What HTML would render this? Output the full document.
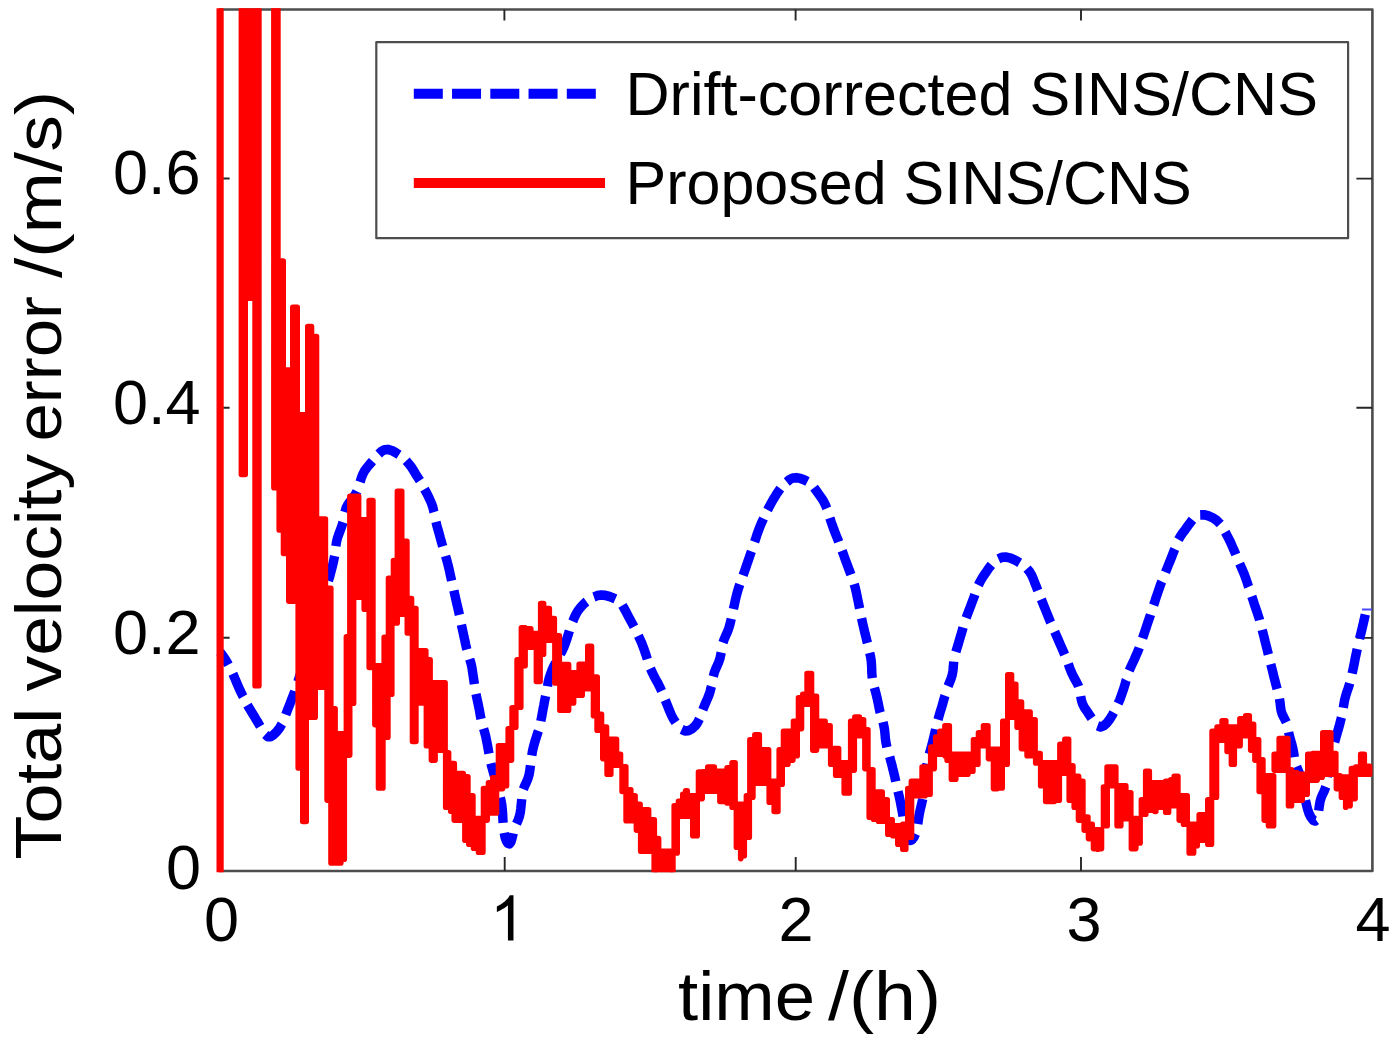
<!DOCTYPE html>
<html><head><meta charset="utf-8"><title>Total velocity error</title>
<style>
html,body{margin:0;padding:0;background:#fff;}
body{width:1400px;height:1042px;overflow:hidden;position:relative;font-family:"Liberation Sans",sans-serif;}
svg{position:absolute;left:0;top:0;display:block;}
text{font-family:"Liberation Sans",sans-serif;fill:#000;}
</style></head><body>
<svg width="1400" height="1042" viewBox="0 0 1400 1042">
<rect x="0" y="0" width="1400" height="1042" fill="#ffffff"/>
<defs><filter id="soft" x="0" y="0" width="1400" height="1042" filterUnits="userSpaceOnUse"><feGaussianBlur stdDeviation="0.5"/></filter></defs>
<g filter="url(#soft)">
<rect x="0" y="0" width="1400" height="1042" fill="#ffffff"/>
<!-- axes box -->
<rect x="220" y="9.5" width="1152.4" height="861.5" fill="none" stroke="#4d4d4d" stroke-width="2.6" stroke-linejoin="round"/>
<!-- ticks -->
<g stroke="#262626" stroke-width="1.9" fill="none">
<path d="M504.7 871V857M795.7 871V857M1081 871V857"/>
<path d="M504.4 9.5V20.4M795.6 9.5V20.4M1081 9.5V20.4"/>
<path d="M220 178.5H229.6M220 407.8H229.6M220 637.8H229.6"/>
<path d="M1372.4 178.6H1356.4M1372.4 407.8H1356.4M1372.4 637.9H1356.4"/>
</g>
<defs><clipPath id="cp"><rect x="215" y="8.2" width="1159" height="864.1"/></clipPath></defs>
<!-- blue curve -->
<g clip-path="url(#cp)"><g transform="scale(1 1.02)"><path id="blue" d="M220 639.2L222.5 642.3L224.7 645.5L226.8 648.8L228.4 651.8M232.9 660.6L234.5 664.2L236 667.8L237.6 671.5L239.2 675L240.9 678.6L242.7 682.1L243.2 683M247.5 691.2L249.5 694.7L251.6 698.1L253.8 701.5L255.9 705L258.2 708.7L260.2 712.1M265.3 720.1L267.8 722.3L270.6 722.3L273.7 720.3L276.8 717.2L279.6 713.7L281.9 709.9M285.8 700.7L287.2 696.9L288.7 693.2L290.1 689.6L291.6 685.9L293 682.3L294.4 678.6L294.7 677.6M297.9 668.3L299.1 664.6L300.4 660.9L301.6 657.2L302.9 653.4L304.1 649.7L305.3 646L305.6 645M308.4 635.6L309.5 631.8L310.6 628.1L311.7 624.3L312.8 620.5L313.9 616.8L315 613L315.3 612.1M318.1 602.7L319.3 598.9L320.4 595.1L321.6 591.4L322.8 587.6L323.9 583.9L325.1 580.1L325.5 578.7M328.4 569.4L329.6 565.6L330.6 561.8L331.6 558L332.6 554.2L333.5 550.4L334.3 546.6L334.6 545.1M335.9 535.4L336.5 531.5L337.4 527.7L338.7 524L340.1 520.4L341.5 516.7L342.7 513L343 512.1M344.9 502L346 498.3L347.7 494.9L350 491.7L352.5 488.7L354.8 485.5L356.8 482.2L357 481.8M360.1 472.5L361.3 468.7L362.7 465.1L364.5 461.7L366.8 458.6L369.3 455.6L371.9 452.7L372.5 452M378.7 445.1L381.3 442.6L384.4 441L387.9 440.6L391.9 441.7L395.9 443.9L399 445.9M406.2 451.8L409.1 455L411.6 458.3L413.8 461.7L415.9 465.1L418 468.4L419.9 471.3M424.5 479.5L426.4 482.9L428.2 486.4L429.9 490L431.5 493.5L432.8 497.2L433.7 501L434 502M436 511.6L436.9 515.4L438 519.2L439.1 522.9L440.1 526.7L441.2 530.5L442.3 534.3L442.7 535.7M445.6 545.1L446.7 548.8L447.7 552.6L448.7 556.4L449.6 560.3L450.4 564.1L451.3 567.9L451.6 569.3M453.9 578.9L454.7 582.7L455.6 586.6L456.5 590.4L457.4 594.2L458.3 598L459.2 601.9L459.4 602.8M461.4 612.4L462.2 616.2L463.1 620.1L463.9 623.9L464.8 627.7L465.6 631.6L466.5 635.4L466.9 636.8M469.7 646.2L470.9 650L471.8 653.8L472.4 657.6L473 661.5L473.6 665.4L474.2 669.3L474.4 670.7M476 680.4L476.8 684.2L477.7 688.1L478.5 691.9L479.3 695.7L480 699.6L480.7 703.5L481 704.9M483.6 714.4L484.7 718.1L485.7 721.9L486.5 725.7L487.3 729.6L488 733.5L488.7 737.3L489 738.8M490.9 748.4L491.9 752.2L493 755.9L494.1 759.7L495.2 763.5L496.3 767.2L497.4 771L497.8 772.5M500.3 781.9L501.2 785.7L501.9 789.6L502.3 793.5L502.6 797.4L502.8 801.3L503 805.2L503.1 806.7M504.2 816.6L505 820.7L506.3 824.4L507.9 826.9L509.5 827.3L510.9 825.4L512 822L513 818L513.2 817M516.5 807.6L518.1 804L519.4 800.3L520.3 796.5L520.8 792.7L521.2 788.8L521.6 784.9L521.7 783.4M523.4 773.8L524.8 770.2L526.5 766.7L528 763.2L529.1 759.5L529.8 755.6L530.3 751.7L530.5 750.3M531.8 740.6L532.4 736.7L533.3 732.9L534.3 729.1L535.5 725.3L536.7 721.6L537.9 717.9L538.4 716.5M540.8 707L541.6 703.1L542.3 699.3L543 695.4L543.8 691.6L544.5 687.7L545.3 683.9L545.6 682.4M547.5 672.8L548.2 668.9L549.1 665.1L550.3 661.4L551.7 657.7L553.3 654.2L555.1 650.7L555.6 649.8M560.4 641.2L562.3 637.8L564 634.2L565.4 630.6L566.7 626.9L567.9 623.1L569.1 619.4L569.4 618.4M572.8 609.2L574.3 605.6L576 602.1L578 598.7L580.5 595.6L583.2 592.7L586.1 590.1L586.5 589.8M593.9 585.2L597.6 583.9L601.3 583.3L605.3 583.7L609.4 584.8L613.4 586.3L615.4 587.2M622.4 593.5L624.5 597L626.4 600.6L628.3 604.1L630.2 607.6L632.1 611L634 614.5M638.4 623.3L640.1 626.9L641.7 630.4L643.1 634.1L644.5 637.8L645.8 641.5L647 645.2L647.3 646.2M650.5 655.4L652.1 659L653.8 662.5L655.7 666L657.7 669.4L659.5 672.9L661.2 676.5L661.6 677.4M665.3 686.4L666.8 690.1L668.3 693.8L669.8 697.4L671.4 701.1L673.3 704.7L675.6 708.2M681.7 715.1L684.9 716.6L688.4 716.3L691.8 714.7L694.9 712L697.4 708.8L699.2 705.2L699.4 704.8M702.8 695.8L704.3 692.1L705.9 688.5L707.5 684.9L709 681.3L710.2 677.6L711.1 673.8L711.4 672.8M713.3 663.2L714.3 659.4L715.7 655.8L717.4 652.2L718.9 648.6L720.1 645L720.9 641.1L721.2 639.7M723 630.1L724.3 626.4L725.9 622.9L727.5 619.3L728.9 615.6L730 611.9L730.9 608.1L731.2 606.6M733.4 597.1L734.3 593.2L735.1 589.4L736 585.6L737 581.8L738.1 578L739.3 574.3L739.8 572.9M743.1 564.1L744.4 560.5L745.7 556.8L747 553L748.3 549.3L749.6 545.6L750.9 541.9L751.4 540.5M754.6 531.2L755.9 527.5L757.1 523.8L758.5 520.1L759.9 516.4L761.4 512.8L763.1 509.3L763.5 508.4M767.6 500L769.4 496.5L771.3 493L773.3 489.6L775.4 486.3L777.5 482.9L779.8 479.8L780.4 479M786.8 472.5L789.7 470.1L792.8 468.6L796.4 468.3L800.5 469L804.6 470.5L807.5 472M814.1 478.1L816.6 481.5L819 484.8L821.4 488L823.5 491.3L825.3 494.8L826.8 498.4M829.9 507.8L831.1 511.5L832.4 515.2L833.8 518.9L835.2 522.5L836.7 526.2L838.2 529.8L838.7 531.2M842.1 539.9L843.5 543.6L844.8 547.3L846.2 550.9L847.6 554.6L849 558.3L850.4 562L850.9 563.4M854.2 572.6L855.3 576.4L856.2 580.2L857 584L857.8 587.9L858.6 591.7L859.4 595.6L859.6 596.5M861.6 606.1L862.4 610L863.3 613.8L864.2 617.6L865.1 621.4L866.1 625.2L867 629L867.4 630.5M869.7 640L870.6 643.8L871.2 647.7L871.5 651.6L871.7 655.5L871.8 659.4L872.1 663.3L872.3 664.8M874.4 674.3L875.5 678.1L876.5 681.9L877.4 685.7L878.2 689.5L879 693.4L879.8 697.2L880.2 698.6M883 708L883.9 711.8L884.6 715.6L885 719.5L885.3 723.4L885.8 727.3L886.6 731.1L886.9 732.6M889.7 742L890.7 745.8L891.8 749.6L892.7 753.4L893.7 757.2L894.6 761L895.5 764.8L895.8 766.2M898 775.8L898.9 779.6L899.8 783.5L900.6 787.3L901.3 791.2L902.1 795L902.8 798.9L903 800.4M904.8 810.1L905.8 814.4L907 818.7L908.3 822.2L910 824L912.1 823.2L914.2 820.4L915.5 817.5M917.8 807.8L918.4 803.7L919 799.7L919.8 795.7L920.7 791.9L921.6 788.1L922.5 784.3L922.7 783.3M924.1 773.6L924.5 769.7L924.9 765.8L925.4 761.9L925.8 758L926.3 754.1L926.8 750.2L927.1 748.8M929.3 739.3L930.4 735.5L931.5 731.7L932.5 727.9L933.5 724.1L934.4 720.3L935.3 716.5L935.6 715M938 705.5L939.1 701.7L940.2 698L941.4 694.2L942.5 690.5L943.6 686.7L944.7 682.9L945 682M948.1 672.7L949.6 669L951.1 665.4L952.2 661.7L952.9 657.9L953.3 654L953.6 650.1L953.7 648.7M955.9 639.1L957 635.4L958.2 631.6L959.3 627.9L960.4 624.1L961.6 620.3L962.7 616.6L963.1 615.1M966.2 605.8L967.5 602.1L968.9 598.5L970.4 594.8L971.8 591.1L973.2 587.5L974.6 583.8L974.9 582.9M978.4 573.7L980.1 570.2L982.1 566.8L984.3 563.5L986.6 560.2L988.9 556.9L991.4 553.8M998.4 547.9L1001.8 546.4L1005.6 546.1L1009.6 546.9L1013.7 548.5L1017.7 550.6L1019.7 551.8M1027 557.5L1029.6 560.5L1031.7 563.9L1033.3 567.5L1034.7 571.2L1036.2 574.8L1037.6 578.5L1037.8 579M1041.3 587.6L1042.8 591.3L1044.3 594.9L1045.8 598.5L1047.3 602.2L1048.8 605.8L1050.3 609.4L1050.7 610.3M1054.7 619.3L1056.3 622.9L1057.9 626.5L1059.5 630.1L1061.1 633.7L1062.7 637.3L1064.3 640.9L1064.7 641.8M1068.3 650.9L1069.6 654.6L1071.1 658.3L1072.7 661.8L1074.6 665.3L1076.5 668.7L1078.3 672.2L1078.6 673.1M1080.7 682.6L1081.4 686.5L1082.6 690.2L1084.5 693.8L1087 697.4L1089.6 701.2L1091.6 704.2M1097.5 711.6L1100.5 712.7L1103.7 711.6L1107 708.7L1109.9 704.9L1112.5 700.7L1113.6 698.6M1118.1 689.7L1119.8 686L1121.2 682.2L1122.5 678.5L1123.8 674.8L1125 671L1126 667.2L1126.2 666.8M1129.2 657.5L1130.8 653.9L1132.5 650.3L1134.2 646.8L1135.8 643.2L1137.4 639.6L1138.9 635.9L1139.2 635M1142.6 625.8L1143.8 622.1L1145.1 618.4L1146.4 614.6L1147.6 610.9L1148.9 607.2L1150.2 603.5L1150.5 602.5M1153.6 593.2L1154.9 589.5L1156.1 585.8L1157.4 582.1L1158.7 578.4L1160 574.7L1161.4 571L1161.8 570.1M1165.5 561L1167 557.3L1168.5 553.7L1170 550.1L1171.5 546.4L1172.9 542.8L1174.4 539.1L1174.8 538.2M1178.5 529.1L1180.4 525.7L1182.6 522.5L1185 519.5L1187.3 516.4L1189.5 513.4L1191.7 510.6L1192.5 509.6M1200.2 504.8L1204 504.7L1208.1 505.6L1212.4 507.4L1216.3 509.9L1219.5 512.9L1220.2 513.7M1225.3 521.7L1227.2 525.2L1229.1 528.8L1230.8 532.3L1232.4 535.9L1234 539.5L1235.6 543.1L1235.8 543.6M1239.7 552.6L1241.3 556.2L1242.9 559.8L1244.4 563.4L1245.8 567.1L1247.1 570.8L1248.3 574.5L1248.7 575.4M1251.8 584.7L1253.1 588.5L1254.3 592.2L1255.6 595.9L1256.9 599.6L1258.1 603.3L1259.4 607.1L1259.6 608M1262.2 617.5L1263.2 621.3L1264.2 625.1L1265.1 628.9L1266.1 632.7L1267.1 636.5L1268 640.3L1268.4 641.7M1270.8 651.2L1271.8 655L1272.8 658.9L1273.7 662.7L1274.7 666.5L1275.7 670.3L1276.7 674L1277.1 675.5M1279.5 685L1280.1 688.9L1280.5 692.8L1281.1 696.6L1282.2 700.2L1283.9 703.5L1285.7 706.8L1286.3 708.1M1288.6 717.9L1289.5 721.7L1290.6 725.5L1291.7 729.2L1292.7 733L1293.5 736.9L1294.1 740.7L1294.3 742.2M1296.6 751.6L1298.1 755.1L1299.7 758.7L1300.9 762.3L1301.8 766.1L1302.6 770L1303.3 773.9L1303.6 775.3M1305.5 784.7L1306.4 788.8L1307.5 793L1308.9 797.3L1310.9 801.2L1313.1 804.1L1315.1 804.9L1316.2 804.1M1318.7 794.7L1319.3 790.3L1320 786.1L1321.1 782.2L1322.6 778.7L1324.3 775.3L1325.6 771.8L1325.8 771.3M1327.3 761.7L1327.9 757.8L1328.7 754L1329.5 750.1L1330.4 746.3L1331.2 742.5L1332 738.6L1332.3 737.2M1334.6 727.6L1335.7 723.9L1336.8 720.1L1337.9 716.3L1339 712.6L1340 708.8L1341 705L1341.4 703.5M1343.3 693.9L1343.9 690.1L1344.6 686.2L1345.6 682.5L1346.8 678.7L1348.1 675L1349.3 671.3L1349.7 669.8M1352.1 660.3L1353 656.5L1353.8 652.7L1354.6 648.8L1355.3 645L1356.2 641.1L1357 637.3L1357.2 636.3M1359.5 626.3L1360.5 622.5L1361.5 618.7L1362.4 614.9L1363.3 611.1L1364.2 607.2L1365.1 603.4L1365.3 602.5" fill="none" stroke="#0000ff" stroke-width="9.4" stroke-linejoin="round"/></g>
<path d="M1362 609.6H1372" stroke="#4a4aff" stroke-width="2" fill="none"/></g>
<!-- red curve -->
<path id="red" d="M219.3 917.2V-37.2H220.9V917.2H219.3ZM241.4 474.5V-37.2H245.2V-37.2H255.1V-37.2H258.9V685.8H255.1V298.2H245.2V474.5H241.4ZM273.9 487.8V-37.2H277.9V261.1H279.2V261.1H283.2V370.1H283.5V370.1H288.8V370.1H292.8V307.2H297.2V414.8H298.2V414.8H302.8V414.8H306.2V414.8H307.8V326.5H311.5V336.5H315.2V336.5H316.5V519.1H325.4V588.4H327.1V588.4H330.8V708.8H331V708.8H335.1V733.8H340.8V733.8H344.3V733.8H346.4V636.7H349.7V636.7H349.9V496.2H353.6V496.2H358.6V519.8H364.2V519.8H369.2V500.5H372.9V665.8H374.9V665.8H378.5V665.8H382.9V665.8H384.2V637.4H387.9V637.4H388.5V578.4H391.8V578.4H393.5V560.5H397.2V560.5H397.4V491.2H401.7V541.3H406.9V598.5H407.3V598.5H411.5V608.5H412.5V608.5H415.9V650.7H425.8V659.8H426.4V659.8H430.1V682.8H431.4V682.8H435.1V682.8H445.1V750.2H435.1V760.1H431.4V745.8H430.1V745.8H426.4V702.9H425.8V702.9H415.9V741.5H412.5V632.9H411.5V632.9H407.3V614.2H406.9V614.2H401.7V614.2H397.4V614.2H397.2V622.9H393.5V622.9H391.8V694.2H388.5V694.2H387.9V737.2H384.2V737.2H382.9V787.9H378.5V724.6H374.9V667.5H372.9V667.5H369.2V609.2H364.2V597.2H358.6V597.2H353.6V703.2H349.9V703.2H349.7V755.1H346.4V755.1H344.3V859.2H340.8V862.9H335.1V862.9H331V800.1H330.8V800.1H327.1V687.2H325.4V687.2H316.5V687.2H315.2V717.2H311.5V717.2H307.8V717.2H306.2V821.5H302.8V767.9H298.2V601.1H297.2V601.1H292.8V601.1H288.8V553.5H283.5V529.9H283.2V529.9H279.2V487.8H277.9V487.8H273.9ZM445.7 807.2V752.8H448.6V763.5H450.7V763.5H454.2V763.5H454.3V773.5H463.2V776.8H464.9V776.8H467.9V795.7H468.8V795.7H472.9V818.5H473.5V818.5H478.5V818.5H482.9V818.5H483.5V788.5H487.2V788.5H488.5V782.8H492.8V777.8H496.5V777.8H498.5V745.8H502.6V745.8H506.5V745.8H508.2V728.8H511.5V760.1H508.2V760.1H506.5V785.8H502.6V788.6H498.5V788.6H496.5V812.9H492.8V812.9H488.5V812.9H487.2V820.1H483.5V820.1H482.9V852.2H478.5V848.2H473.5V844.2H472.9V844.2H468.8V840.2H467.9V840.2H464.9V820.1H463.2V820.1H454.3V820.1H454.2V811.2H450.7V807.2H448.6V807.2H445.7ZM512.1 727.2V707.8H515.8V727.2H512.1ZM517.1 707.2V659.8H520.8V659.8H521.4V627.8H525.1V628.8H530.8V633.5H536.4V633.5H540.1V633.5H540.7V603.5H543.6V608.5H549.3V618.5H554.3V635.7H554.9V635.7H559.3V664.5H559.9V664.5H568.6V672.8H573.6V672.8H579.2V664.2H582.2V664.2H587.8V646.4H591.5V677.1H593.5V677.1H597.1V677.1H597.2V714.2H601.5V727.1H602.8V727.1H606.5V739.2H607.1V739.2H610.8V739.2H616.5V754.2H620.5V765.2H616.5V765.2H610.8V774.2H607.1V758.6H606.5V758.6H602.8V730.2H601.5V730.2H597.2V730.2H597.1V715.8H593.5V688.6H591.5V688.6H587.8V688.6H582.2V695.2H579.2V695.2H573.6V702.9H568.6V710.2H559.9V682.9H559.3V682.9H554.9V640.1H554.3V640.1H549.3V640.1H543.6V654.2H540.7V654.2H540.1V681.5H536.4V647.2H530.8V647.2H525.1V665.8H521.4V665.8H520.8V707.2H517.1ZM622.1 791.5V766.8H625.8V789.8H626.1V789.8H630.8V795.7H635.1V804.2H636.4V804.2H640.1V809.8H640.7V809.8H648.6V819.8H654.2V819.8H654.3V838.5H658.6V851.4H672.9V851.4H674.2V805.7H677.2V805.7H678.5V801.4H680.1V801.4H682.8V794.2H685.7V790.7H687.2V795.7H692.8V795.7H697.2V795.7H698.5V772.1H702.2V772.1H702.8V771.8H707.8V767.1H714.3V771.4H719.9V771.4H727.1V767.8H732.1V762.8H735.1V804.2H736.4V804.2H740.7V804.2H740.8V804.2H744.3V804.2H746.4V795.7H749.3V795.7H749.9V739.8H752.9V739.8H754.9V734.8H759.3V749.8H768.6V781.4H769.2V781.4H774.2V781.4H777.9V781.4H779.2V749.8H782.2V749.8H783.5V731.4H787.9V731.4H792.9V731.4H793.5V721.4H797.2V721.4H798.5V697.8H801.5V697.8H802.8V694.2H807.1V673.5H811.5V696.4H812.8V696.4H816.5V721.4H825.1V725.7H830.1V745.8H825.1V745.8H816.5V750.1H812.8V704.2H811.5V704.2H807.1V704.2H802.8V704.2H801.5V728.6H798.5V728.6H797.2V755.8H793.5V755.8H792.9V760.1H787.9V764.2H783.5V764.2H782.2V784.2H779.2V784.2H777.9V811.5H774.2V802.2H769.2V783.2H768.6V783.2H759.3V783.2H754.9V783.2H752.9V797.2H749.9V797.2H749.3V837.2H746.4V837.2H744.3V855.8H740.8V858.6H740.7V847.2H736.4V807.2H735.1V807.2H732.1V802.9H727.1V801.5H719.9V791.2H714.3V791.2H707.8V791.2H702.8V791.2H702.2V798.6H698.5V798.6H697.2V835.8H692.8V816.2H687.2V816.2H685.7V816.2H682.8V816.2H680.1V816.5H678.5V816.5H677.2V852.9H674.2V852.9H672.9V917.2H658.6V917.2H654.3V917.2H654.2V851.2H648.6V851.2H640.7V830.1H640.1V830.1H636.4V820.8H635.1V820.8H630.8V820.8H626.1V791.5H625.8V791.5H622.1ZM830.7 764.2V748.5H835.7V748.5H838.6V762.8H844.2V762.8H849.3V762.8H850.7V721.4H854.3V721.4H854.9V717.1H859.3V719.8H863.6V729.8H864.9V729.8H867.9V768.6H864.9V735.8H863.6V735.8H859.3V735.8H854.9V735.8H854.3V770.1H850.7V770.1H849.3V792.9H844.2V775.2H838.6V775.2H835.7V764.2H830.7ZM869.2 817.2V769.8H872.9V792.1H873.5V792.1H878.5V792.1H882.2V799.8H887.2V819.8H887.8V819.8H892.2V825.7H892.8V825.7H897.8V825.7H902.8V824.2H905.8V824.2H907.8V788.5H911.4V781.4H911.5V781.4H922.1V767.1H925.1V767.1H930.1V767.1H930.7V747.1H934.3V747.1H935.7V737.1H939.9V731.4H944.9V725.7H947.1V725.7H949.3V754.2H951.4V754.2H955.8V754.2H967.9V754.2H972.9V754.2H973.5V739.8H977.9V739.8H978.5V732.8H983.5V725.7H987.9V745.8H983.5V745.8H978.5V745.8H977.9V764.2H973.5V764.2H972.9V771.2H967.9V774.2H955.8V779.2H951.4V760.2H949.3V760.2H947.1V755.8H944.9V754.2H939.9V754.2H935.7V754.2H934.3V768.6H930.7V768.6H930.1V794.2H925.1V795.8H922.1V795.8H911.5V837.2H911.4V837.2H907.8V837.2H905.8V849.2H902.8V844.2H897.8V835.8H892.8V834.2H892.2V834.2H887.8V821.2H887.2V821.2H882.2V821.2H878.5V819.2H873.5V817.2H872.9V817.2H869.2ZM988.5 758.6V749.2H993.5V749.2H997.2V749.2H1002.2V749.2H1002.8V721.4H1007.2V764.2H1002.8V764.2H1002.2V787.9H997.2V788.6H993.5V758.6H988.5ZM1007.8 717.2V674.8H1011.5V684.2H1015.8V702.1H1017.1V702.1H1021.4V702.1H1021.5V712.1H1027.1V712.1H1030.1V719.8H1035.1V753.5H1035.7V753.5H1040.1V762.8H1040.7V762.8H1045.7V762.8H1054.3V762.8H1059.3V762.8H1059.9V744.2H1064.9V739.2H1068.6V765.8H1069.2V765.8H1072.9V776.4H1074.2V776.4H1078.5V776.4H1078.6V781.4H1082.9V817.1H1084.2V817.1H1087.9V824.2H1088.5V824.2H1092.2V829.8H1093.5V829.8H1097.8V829.8H1097.9V829.8H1101.5V848.6H1097.9V849.2H1097.8V848.6H1093.5V838.6H1092.2V838.6H1088.5V830.1H1087.9V830.1H1084.2V820.1H1082.9V820.1H1078.6V820.1H1078.5V807.2H1074.2V800.2H1072.9V800.2H1069.2V773.2H1068.6V773.2H1064.9V773.2H1059.9V773.2H1059.3V800.2H1054.3V801.5H1045.7V785.8H1040.7V762.9H1040.1V762.9H1035.7V755.8H1035.1V755.8H1030.1V755.8H1027.1V748.6H1021.5V748.6H1021.4V727.2H1017.1V717.2H1015.8V717.2H1011.5V717.2H1007.8ZM1103.5 825.8V787.1H1107.1V767.1H1107.2V767.1H1115.8V785.7H1117.1V785.7H1120.8V785.7H1125.8V792.8H1130.8V818.5H1131.4V818.5H1135.8V818.5H1140.1V842.9H1135.8V848.6H1131.4V818.6H1130.8V818.6H1125.8V818.6H1120.8V825.8H1117.1V785.8H1115.8V785.8H1107.2V825.8H1107.1V825.8H1103.5ZM1141.4 814.2V799.8H1145.7V771.4H1145.8V771.4H1149.3V782.8H1154.9V782.8H1155.8V782.8H1165.7V781.4H1168.6V781.4H1170.7V779.8H1174.2V776.4H1177.9V795.7H1179.2V795.7H1183.5V795.7H1187.2V824.2H1189.2V824.2H1193.6V824.2H1197.2V824.2H1199.2V814.8H1207.8V799.8H1211.5V844.2H1207.8V840.2H1199.2V840.2H1197.2V845.8H1193.6V852.9H1189.2V824.2H1187.2V824.2H1183.5V820.1H1179.2V805.8H1177.9V805.8H1174.2V805.8H1170.7V805.8H1168.6V812.2H1165.7V807.2H1155.8V811.5H1154.9V810.1H1149.3V810.1H1145.8V814.2H1145.7V814.2H1141.4ZM1212.1 797.2V731.4H1216.5V731.4H1217.1V727.1H1222.1V720.8H1225.8V727.1H1227.1V727.1H1231.4V727.1H1234.3V727.1H1239.9V718.8H1240.1V718.8H1245.7V715.7H1249.3V724.2H1250.7V724.2H1253.6V739.8H1254.9V739.8H1258.6V759.8H1259.2V759.8H1262.9V775.7H1264.2V775.7H1268.5V775.7H1273.6V825.8H1268.5V820.1H1264.2V791.5H1262.9V791.5H1259.2V760.1H1258.6V760.1H1254.9V750.1H1253.6V750.1H1250.7V735.8H1249.3V735.8H1245.7V735.8H1240.1V745.8H1239.9V745.8H1234.3V764.2H1231.4V751.5H1227.1V740.1H1225.8V740.1H1222.1V740.1H1217.1V740.1H1216.5V797.2H1212.1ZM1274.2 770.1V754.2H1279.2V738.5H1287.9V769.8H1288.5V769.8H1291.5V772.8H1297.2V774.2H1302.2V774.2H1307.2V774.2H1307.8V754.2H1312.8V753.5H1317.2V753.5H1322.2V753.5H1322.8V732.8H1330.8V753.5H1335.8V774.2H1330.8V774.2H1322.8V774.2H1322.2V777.2H1317.2V780.1H1312.8V780.1H1307.8V780.1H1307.2V794.2H1302.2V800.1H1297.2V800.1H1291.5V805.8H1288.5V770.1H1287.9V770.1H1279.2V770.1H1274.2ZM1336.4 788.6V775.7H1340.1V777.1H1341.4V777.1H1345.7V777.1H1345.8V777.1H1350.1V777.1H1351.4V768.5H1355.1V768.5H1355.7V767.1H1360.7V754.2H1364.3V766.4H1369.6V774.2H1364.3V774.2H1360.7V774.2H1355.7V774.2H1355.1V798.6H1351.4V798.6H1350.1V805.8H1345.8V807.2H1345.7V797.2H1341.4V788.6H1340.1V788.6H1336.4Z" fill="#ff0000" stroke="#ff0000" stroke-width="5.6" stroke-linejoin="round" clip-path="url(#cp)"/>
<!-- legend -->
<rect x="376.3" y="42.2" width="971.8" height="196" fill="#fff" stroke="#4d4d4d" stroke-width="2.2" stroke-linejoin="round"/>
<path d="M413.8 93.75H596" stroke="#0000ff" stroke-width="10" stroke-dasharray="29 9.25" fill="none"/>
<path d="M413.8 183H605" stroke="#ff0000" stroke-width="10" fill="none"/>
<text id="lg1" x="625.5" y="115" font-size="61.3" textLength="692.4" lengthAdjust="spacingAndGlyphs">Drift-corrected SINS/CNS</text>
<text id="lg2" x="625.5" y="204" font-size="61.3" textLength="566.2" lengthAdjust="spacingAndGlyphs">Proposed SINS/CNS</text>
<!-- tick labels -->
<text id="y06" x="113" y="194.3" font-size="63">0.6</text>
<text id="y04" x="113" y="423.5" font-size="63">0.4</text>
<text id="y02" x="113" y="653.5" font-size="63">0.2</text>
<text id="y0" x="166" y="888.6" font-size="63">0</text>
<text id="x0" x="221.4" y="940.5" font-size="63" text-anchor="middle">0</text>
<path id="x1" transform="translate(490 940.5) scale(0.03076 -0.03076)" d="M763 0H583V1147Q518 1085 412.5 1023T223 930V1104Q374 1175 487 1276T647 1472H763Z" fill="#000"/>
<text id="x2" x="796" y="940.5" font-size="63" text-anchor="middle">2</text>
<text id="x3" x="1084" y="940.5" font-size="63" text-anchor="middle">3</text>
<text id="x4" x="1373" y="940.5" font-size="63" text-anchor="middle">4</text>
<!-- axis labels -->
<text id="xl1" x="678" y="1019.7" font-size="68" textLength="137" lengthAdjust="spacingAndGlyphs">time</text>
<text id="xl2" x="828" y="1019.7" font-size="68" textLength="113" lengthAdjust="spacingAndGlyphs">/(h)</text>
<text id="yl1" transform="translate(60.5 859.5) rotate(-90)" font-size="65" textLength="151.7" lengthAdjust="spacingAndGlyphs">Total</text>
<text id="yl2" transform="translate(60.5 691.5) rotate(-90)" font-size="65" textLength="237.6" lengthAdjust="spacingAndGlyphs">velocity</text>
<text id="yl3" transform="translate(60.5 441.5) rotate(-90)" font-size="65" textLength="145.4" lengthAdjust="spacingAndGlyphs">error</text>
<text id="yl4" transform="translate(60.5 278) rotate(-90)" font-size="65" textLength="187.2" lengthAdjust="spacingAndGlyphs">/(m/s)</text>
</g>
</svg>
</body></html>
